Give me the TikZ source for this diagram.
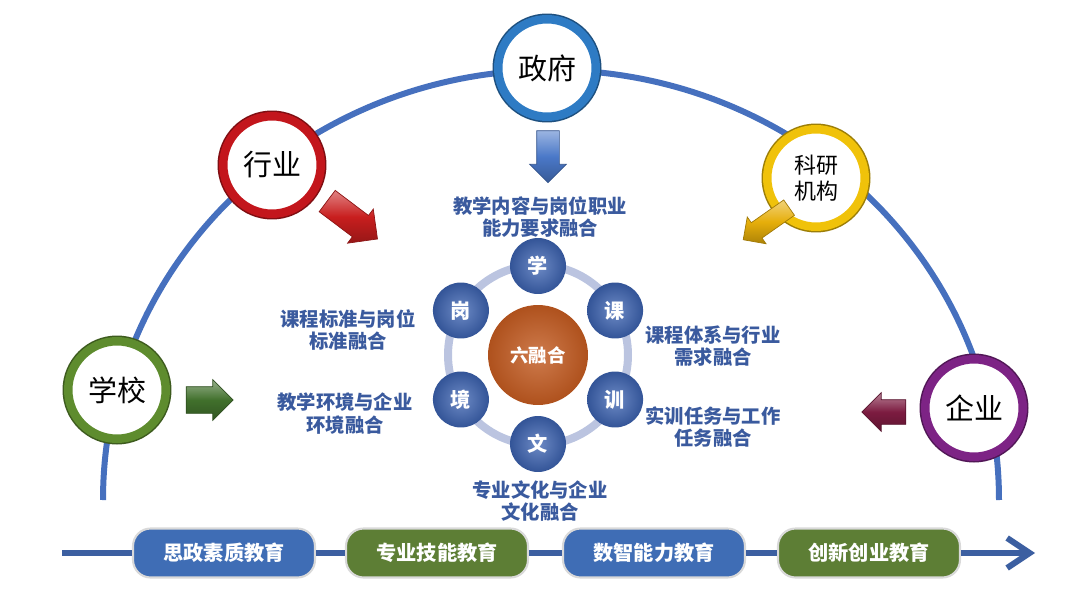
\documentclass[tikz,border=0pt]{standalone}
\usepackage{fontspec}
\setmainfont{Noto Sans CJK SC}
\usepackage{tikz}
\usetikzlibrary{positioning,shapes.arrows,arrows.meta}
\definecolor{arcblue}{HTML}{4670BE}
\definecolor{govblue}{HTML}{2E7BC4}
\definecolor{indred}{HTML}{C3161C}
\definecolor{resgold}{HTML}{F0C20A}
\definecolor{schgreen}{HTML}{5E8C2E}
\definecolor{entpurple}{HTML}{7D2385}
\definecolor{govarrow}{HTML}{4A78C8}
\definecolor{indarrow}{HTML}{C81E1E}
\definecolor{resarrow}{HTML}{E6AE0A}
\definecolor{scharrow}{HTML}{41702C}
\definecolor{entarrow}{HTML}{7C1B40}
\definecolor{labelblue}{HTML}{3A5A9E}
\definecolor{ballblue}{HTML}{3C63B2}
\definecolor{hubred}{HTML}{C25A20}
\definecolor{hexring}{HTML}{BBC4E0}
\definecolor{pillblue}{HTML}{3F6DB5}
\definecolor{pillgreen}{HTML}{5D7E35}

\begin{document}
\begin{tikzpicture}[x=0.02cm, y=0.02cm,
    party/.style={circle, draw=#1, fill=white, line width=0.17cm, minimum size=1.95cm, inner sep=0pt,
        preaction={draw=#1!65!black, line width=0.23cm},
        font=\fontsize{16.5}{19}\selectfont, text=black, align=center},
    push/.style={single arrow, draw=#1!70!black, line width=0.4pt, top color=#1!55!white,
        bottom color=#1!75!black, middle color=#1, inner xsep=0pt, single arrow head indent=0pt},
    hexball/.style={circle, minimum size=1.12cm, inner sep=0pt, inner color=ballblue!75!white,
        outer color=ballblue!85!black, text=white, font=\bfseries\fontsize{11.5}{13}\selectfont},
    fuse/.style={align=center, inner sep=0pt, text=labelblue, font=\bfseries\fontsize{11}{13}\selectfont},
    course/.style={rounded corners=10pt, fill=#1, draw=white!70!gray, line width=1.2pt,
        minimum width=3.64cm, minimum height=0.98cm, text=white, font=\bfseries\fontsize{11.5}{13}\selectfont},
    arcline/.style={draw=arcblue, line width=0.12cm},
    barline/.style={draw=arcblue!85!black, line width=0.12cm}]
    \useasboundingbox (0,0) rectangle (1086,600);

    \draw[arcline] (103,100) arc[start angle=180, end angle=0, x radius=448, y radius=430];

    \node[party=govblue] (gov) at (547,532) {政府};
    \node[party=indred] (ind) at (272,435) {行业};
    \node[party=resgold, font=\fontsize{12.5}{15}\selectfont] (res) at (816,422) {科研\\机构};
    \node[party=schgreen] (sch) at (117,210) {学校};
    \node[party=entpurple] (ent) at (974,192) {企业};

    \node[push=govarrow, minimum height=1.04cm, inner ysep=0.22cm, single arrow head extend=0.14cm, rotate=-90] (govpush) at (548,449) {};
    \node[push=indarrow, minimum height=1.26cm, inner ysep=0.26cm, single arrow head extend=0.16cm, rotate=-37] (indpush) at (347,384) {};
    \node[push=resarrow, minimum height=1.12cm, inner ysep=0.18cm, single arrow head extend=0.14cm, rotate=-145] (respush) at (770,379) {};
    \node[push=scharrow, minimum height=0.94cm, inner ysep=0.26cm, single arrow head extend=0.14cm] (schpush) at (203,200) {};
    \node[push=entarrow, minimum height=0.88cm, inner ysep=0.24cm, single arrow head extend=0.14cm, rotate=180] (entpush) at (890,188) {};

    \coordinate (hub) at (538,245);
    \draw[draw=hexring, line width=0.16cm] (hub) circle[radius=90];
    \node[circle, minimum size=2cm, inner sep=0pt, inner color=hubred!80!white, outer color=hubred!90!black,
        text=white, font=\bfseries\fontsize{10.5}{12}\selectfont] (six) at (hub) {六融合};
    \foreach \ch/\ang/\nm in {学/90/xue, 课/30/ke, 训/-30/xun, 文/-90/wen, 境/-150/jing, 岗/150/gang}
        \node[hexball] (\nm) at ([shift={(\ang:89)}]hub) {\ch};

    \node[fuse] (fxue) at (540,383) {教学内容与岗位职业\\能力要求融合};
    \node[fuse] (fke) at (713,254) {课程体系与行业\\需求融合};
    \node[fuse] (fxun) at (713,173) {实训任务与工作\\任务融合};
    \node[fuse] (fwen) at (540,99) {专业文化与企业\\文化融合};
    \node[fuse] (fgang) at (348,270) {课程标准与岗位\\标准融合};
    \node[fuse] (fjing) at (345,186) {教学环境与企业\\环境融合};

    \coordinate (barstart) at (62,47);
    \coordinate (barend) at (1035,47);
    \node[course=pillblue] (sizheng) at (224,47) {思政素质教育};
    \node[course=pillgreen] (zhuanye) at (437,47) {专业技能教育};
    \node[course=pillblue] (shuzhi) at (654,47) {数智能力教育};
    \node[course=pillgreen] (chuangxin) at (869,47) {创新创业教育};
    \draw[barline] (barstart) -- (sizheng);
    \draw[barline] (sizheng) -- (zhuanye);
    \draw[barline] (zhuanye) -- (shuzhi);
    \draw[barline] (shuzhi) -- (chuangxin);
    \draw[barline, -{Straight Barb[length=0.45cm, width=0.6cm]}] (chuangxin) -- (barend);
\end{tikzpicture}
\end{document}
